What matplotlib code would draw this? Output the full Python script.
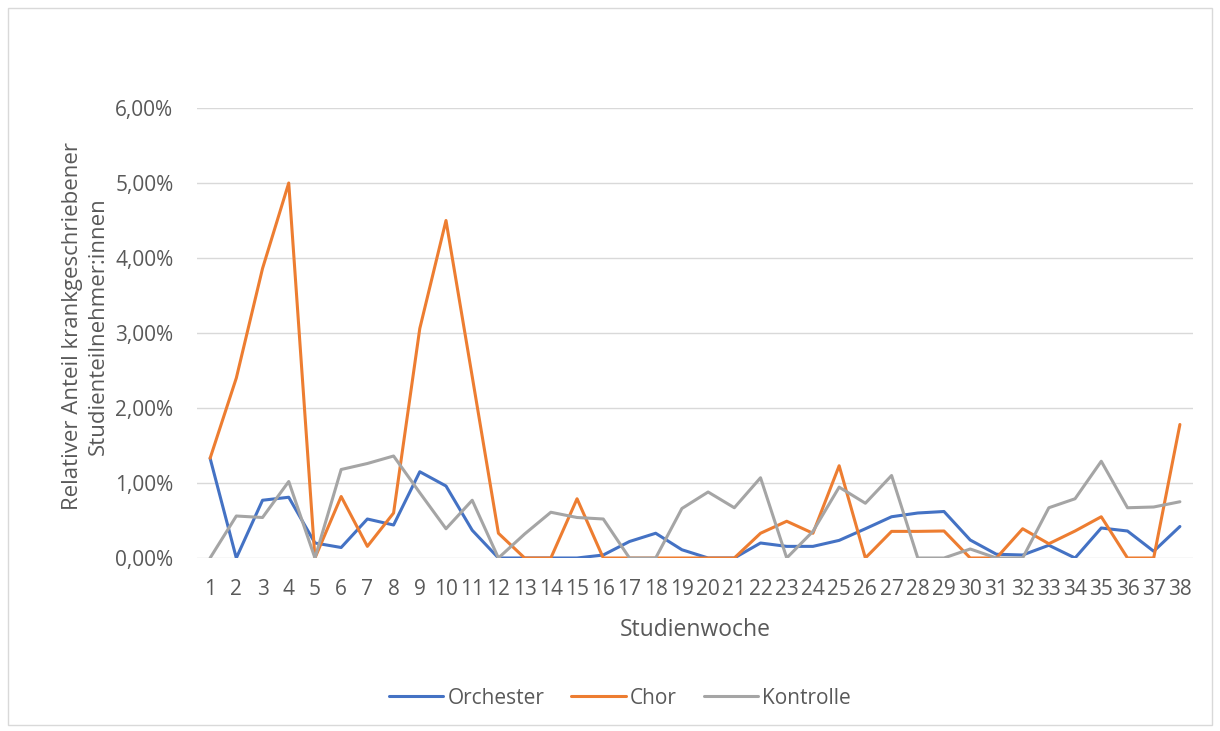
import numpy as np
import matplotlib.pyplot as plt
from matplotlib.patches import Rectangle
from matplotlib.ticker import FuncFormatter

plt.rcParams['font.family'] = ['Open Sans', 'DejaVu Sans']

# Weekly share of students on sick leave (in %)
weeks = list(range(1, 39))
orchester = [1.33, 0.00, 0.77, 0.81, 0.20, 0.14, 0.52, 0.44, 1.15, 0.96,
             0.37, 0.00, 0.00, 0.00, 0.00, 0.04, 0.22, 0.33, 0.11, 0.00,
             0.00, 0.20, 0.155, 0.155, 0.235, 0.39, 0.55, 0.60, 0.62, 0.24,
             0.05, 0.04, 0.17, 0.00, 0.40, 0.36, 0.09, 0.42]
chor = [1.33, 2.40, 3.86, 5.00, 0.00, 0.82, 0.155, 0.60, 3.06, 4.50,
        2.42, 0.33, 0.00, 0.00, 0.79, 0.00, 0.00, 0.00, 0.00, 0.00,
        0.00, 0.33, 0.49, 0.33, 1.23, 0.00, 0.355, 0.355, 0.36, 0.00,
        0.00, 0.39, 0.19, 0.36, 0.55, 0.00, 0.00, 1.78]
kontrolle = [0.00, 0.56, 0.54, 1.02, 0.00, 1.18, 1.26, 1.36, 0.87, 0.39,
             0.77, 0.00, 0.32, 0.61, 0.54, 0.52, 0.00, 0.00, 0.66, 0.88,
             0.67, 1.07, 0.00, 0.355, 0.945, 0.73, 1.10, 0.00, 0.00, 0.12,
             0.00, 0.00, 0.67, 0.79, 1.29, 0.67, 0.68, 0.75]

series = [("Orchester", orchester, "#4472C4"),
          ("Chor", chor, "#ED7D31"),
          ("Kontrolle", kontrolle, "#A5A5A5")]

W, H = 1220, 731
fig = plt.figure(figsize=(W / 100, H / 100), dpi=100)
fig.patches.append(Rectangle((8 / W, 6 / H), 1204 / W, 717 / H,
                             transform=fig.transFigure, fill=False,
                             edgecolor="#D9D9D9", linewidth=1.0))

ax = fig.add_axes([197 / W, 1 - 558 / H, 996 / W, 450 / H])
for name, vals, col in series:
    ax.plot(weeks, np.array(vals) / 100, color=col, linewidth=2.2,
            label=name, solid_joinstyle="round", solid_capstyle="round")

ax.set_xlim(0.5, 38.5)
ax.set_ylim(0, 0.06)
ax.set_yticks(np.arange(0, 0.061, 0.01))
ax.yaxis.set_major_formatter(
    FuncFormatter(lambda v, p: f"{v * 100:.2f}%".replace(".", ",")))
ax.set_xticks(weeks)
ax.set_xticklabels([str(w) for w in weeks])

ax.grid(axis="y", color="#D9D9D9", linewidth=1.0)
ax.set_axisbelow(True)
for s in ax.spines.values():
    s.set_visible(False)
ax.tick_params(length=0, labelsize=15, labelcolor="#595959")
ax.tick_params(axis="y", pad=17)
ax.tick_params(axis="x", pad=15)

ax.set_xlabel("Studienwoche", fontsize=16.5, color="#595959", labelpad=13)
ax.set_ylabel("Relativer Anteil krankgeschriebener\nStudienteilnehmer:innen",
              fontsize=16, color="#595959", linespacing=1.3)
ax.yaxis.set_label_coords(-0.089, 0.515)

fig.legend(loc="center", bbox_to_anchor=(620 / W, 1 - 698 / H), ncol=3,
           frameon=False, fontsize=15, handlelength=2.6, columnspacing=1.3,
           handletextpad=0.2, labelcolor="#595959")

fig.savefig("out.png", dpi=100, facecolor="white")
